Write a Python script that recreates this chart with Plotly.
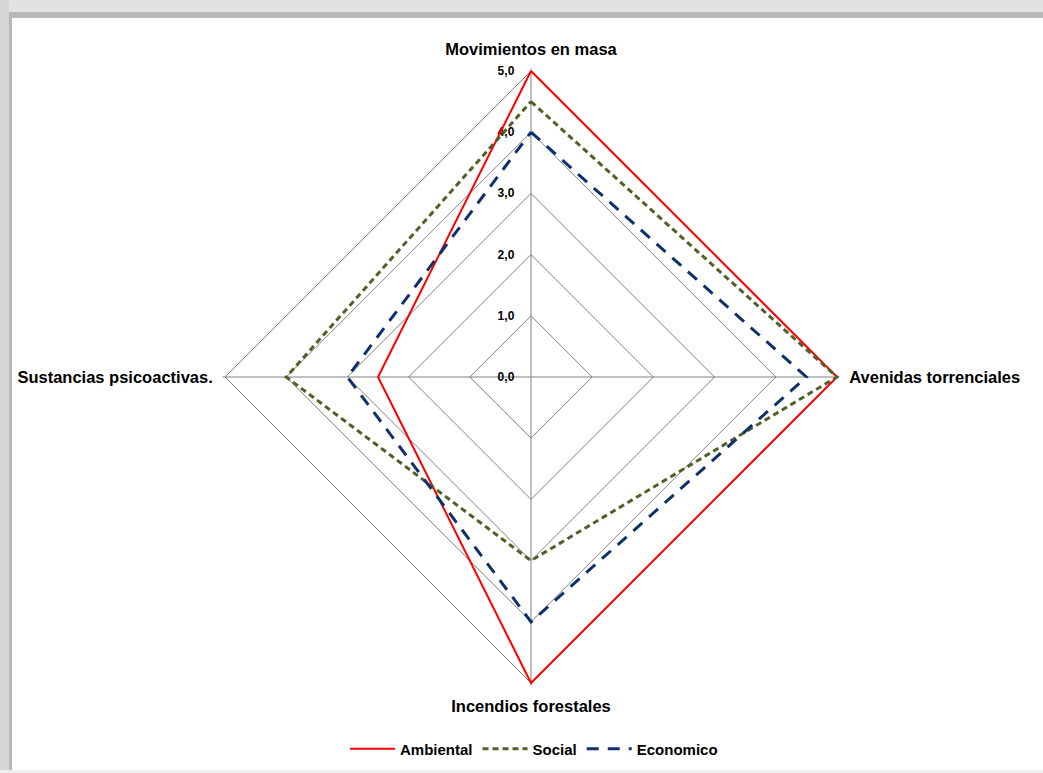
import plotly.graph_objects as go

categories = ["Movimientos en masa", "Avenidas torrenciales", "Incendios forestales", "Sustancias psicoactivas."]
ambiental = [5.0, 5.0, 5.0, 2.5]
social = [4.5, 5.0, 3.0, 4.0]
economico = [4.0, 4.5, 4.0, 3.0]
radial_ticks = [0, 1, 2, 3, 4, 5]
radial_labels = ["0,0", "1,0", "2,0", "3,0", "4,0", "5,0"]
series_names = ["Ambiental", "Social", "Economico"]

W, H = 1043, 773
RMAX = 5.04
cx, cy = 531, 377
R = 306 * RMAX / 5
FONT = "Liberation Sans, Arial, sans-serif"

def closed(v):
    return v + v[:1]

styles = [
    dict(color="#ff0000", width=2),
    dict(color="#4f6228", width=3, dash="6px,4px"),
    dict(color="#10306a", width=3, dash="12px,9px"),
]

fig = go.Figure()
for name, vals, st in zip(series_names, [ambiental, social, economico], styles):
    fig.add_trace(go.Scatterpolar(r=closed(vals), theta=closed(categories), mode="lines",
                                  name="<b>" + name + "</b>", line=st, cliponaxis=False))

fig.update_layout(
    width=W, height=H,
    margin=dict(l=0, r=0, t=0, b=0),
    paper_bgcolor="white",
    font=dict(family=FONT, size=14, color="#000000"),
    showlegend=True,
    legend=dict(orientation="h", x=0.512, xanchor="center", y=1 - 749 / H, yanchor="middle",
                font=dict(family=FONT, size=15, color="#000"), itemwidth=45),
    polar=dict(
        domain=dict(x=[(cx - R) / W, (cx + R) / W], y=[(H - cy - R) / H, (H - cy + R) / H]),
        gridshape="linear",
        bgcolor="white",
        radialaxis=dict(range=[0, RMAX], tickvals=radial_ticks,
                        ticktext=["<b>" + t + "</b>" for t in radial_labels], angle=90,
                        tickangle=90, showline=False, gridcolor="#808080", gridwidth=1,
                        ticks="outside", ticklen=12, tickcolor="rgba(0,0,0,0)",
                        side="counterclockwise", layer="below traces",
                        tickfont=dict(family=FONT, size=12, color="#000")),
        angularaxis=dict(direction="clockwise", rotation=90, gridcolor="#808080", gridwidth=1,
                         showline=False, ticks="outside",
                         ticklen=6, tickcolor="rgba(0,0,0,0)", layer="below traces",
                         categoryarray=categories, categoryorder="array",
                         tickprefix="<b>", ticksuffix="</b>",
                         tickfont=dict(family=FONT, size=16.5, color="#000")),
    ),
    shapes=[
        dict(type="rect", xref="paper", yref="paper", x0=0, x1=1, y0=1 - 12 / H, y1=1,
             fillcolor="#e2e2e2", line=dict(width=0), layer="above"),
        dict(type="rect", xref="paper", yref="paper", x0=0, x1=1, y0=1 - 18 / H, y1=1 - 12 / H,
             fillcolor="#b8b8b8", line=dict(width=0), layer="above"),
        dict(type="rect", xref="paper", yref="paper", x0=0, x1=9 / W, y0=0, y1=1,
             fillcolor="#d6d6d6", line=dict(width=0), layer="above"),
        dict(type="rect", xref="paper", yref="paper", x0=9 / W, x1=12 / W, y0=0, y1=1 - 12 / H,
             fillcolor="#b8b8b8", line=dict(width=0), layer="above"),
        dict(type="rect", xref="paper", yref="paper", x0=0, x1=1, y0=0, y1=3 / H,
             fillcolor="#eeeeee", line=dict(width=0), layer="above"),
    ],
)

fig.write_html("out.html", config=dict(displayModeBar=False),
               post_script="document.body.style.margin='0px';")
